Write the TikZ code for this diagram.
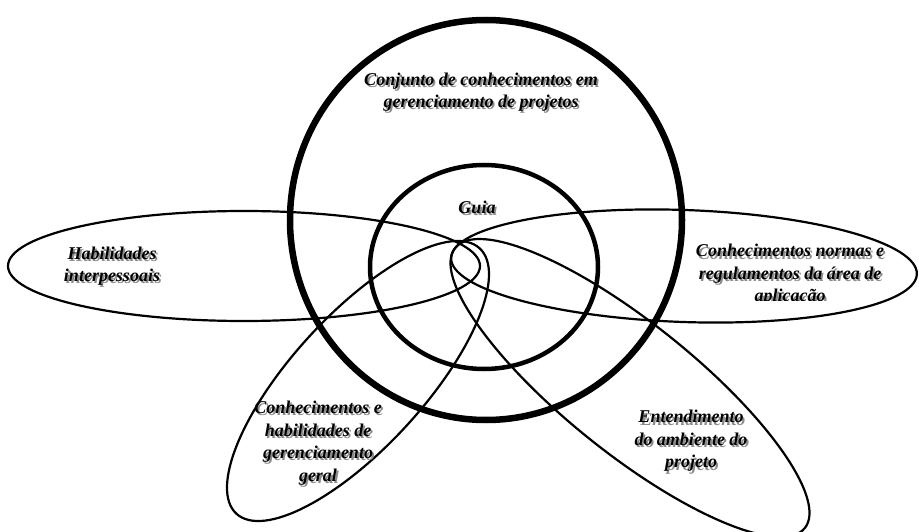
\documentclass[tikz,border=0pt]{standalone}
\usepackage{fontspec}
\setmainfont{Liberation Serif}
% label with a soft grey drop shadow: shadow copy first, then the text itself
\newcommand\shadowlabel[3]{%
  \node[lblshadow] (#1-s) at (#2) {#3};
  \node[lbl] (#1) at (#2) {#3};}
\begin{document}
\begin{tikzpicture}[x=1pt,y=-1pt,
  petal/.style={line width=2.2pt},
  outerring/.style={line width=6.5pt},
  innerring/.style={line width=4.5pt},
  lbl/.style={align=center, inner sep=0pt,
    font=\fontsize{18}{22.5}\selectfont\bfseries\itshape},
  lblshadow/.style={lbl, text=black!45, xshift=1.8pt, yshift=-2.2pt}]
\useasboundingbox (0,0) rectangle (919,532);

% four petals meeting near the centre
\draw[petal] (244,266) ellipse [x radius=236pt, y radius=55pt];
\draw[petal, rotate around={-2:(684,266)}] (684,266) ellipse [x radius=233pt, y radius=56pt];
\draw[petal, rotate around={47.5:(358,381)}] (358,381) ellipse [x radius=180pt, y radius=66pt];
\draw[petal, rotate around={-38.7:(630,388)}] (630,388) ellipse [x radius=224pt, y radius=65pt];

% body of knowledge and the guide
\draw[outerring] (486,220) ellipse [x radius=196pt, y radius=200pt];
\draw[innerring] (484,267) ellipse [x radius=114pt, y radius=102pt];

% labels
\shadowlabel{corpo}{481,92}{Conjunto de conhecimentos em\\gerenciamento de projetos}
\shadowlabel{guia}{477,207}{Guia}
\shadowlabel{inter}{112,266}{Habilidades\\interpessoais}
\begin{scope}
  % the text frame cuts the last line at its baseline
  \clip (600,150) rectangle (919,300.5);
  \shadowlabel{area}{790,275}{Conhecimentos normas e\\regulamentos da área de\\aplicação}
\end{scope}
\shadowlabel{geral}{318,443}{Conhecimentos e\\habilidades de\\gerenciamento\\geral}
\shadowlabel{ambiente}{691,441}{Entendimento\\do ambiente do\\projeto}
\end{tikzpicture}
\end{document}
